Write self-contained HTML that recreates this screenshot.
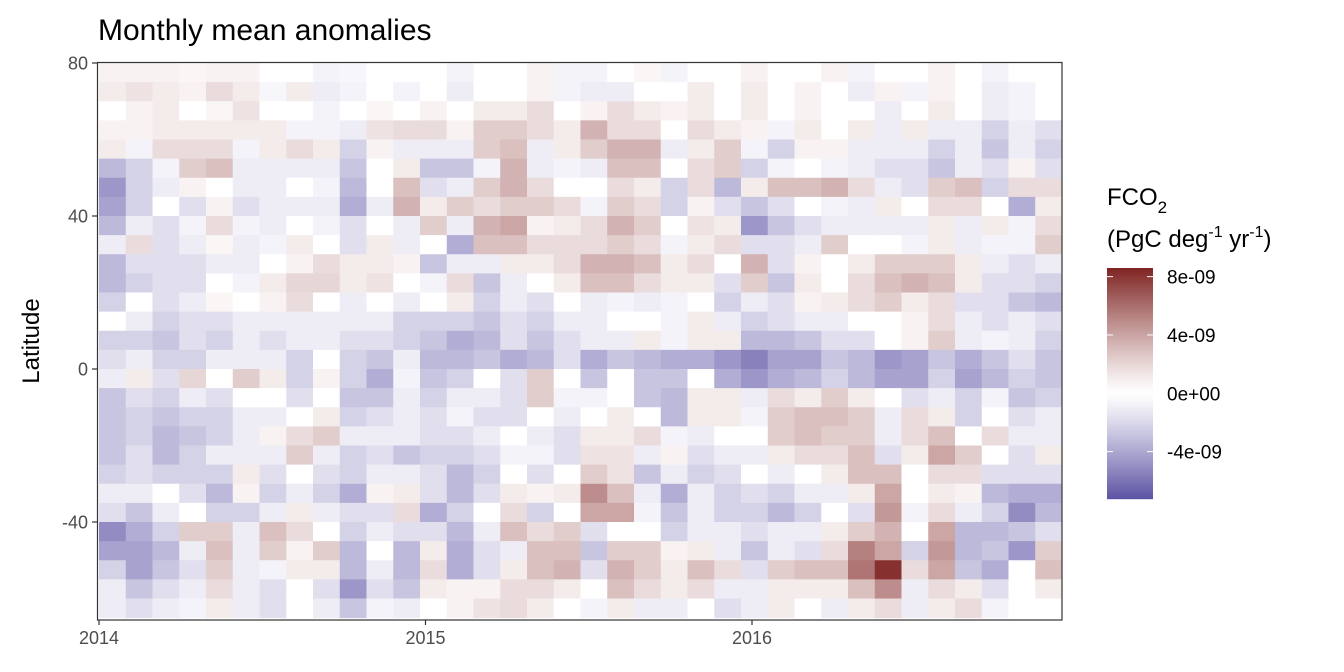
<!DOCTYPE html>
<html><head><meta charset="utf-8"><style>
body{margin:0;background:#fff;}
svg{display:block;font-family:"Liberation Sans",Arial,sans-serif;}
</style></head><body>
<svg id="chart" width="1344" height="672" viewBox="0 0 1344 672">
<text x="98" y="40" font-size="30" fill="#000">Monthly mean anomalies</text>
<g id="cells"></g>
<rect x="97.5" y="62.5" width="964.5" height="557.5" fill="none" stroke="#333" stroke-width="1.2"/>
<g id="axes"></g>
<text transform="translate(39,341) rotate(-90)" text-anchor="middle" font-size="24" fill="#000">Latitude</text>
<g>
<text x="1107" y="205" font-size="24" fill="#000">FCO<tspan font-size="17" dy="8">2</tspan></text>
<text x="1107" y="247" font-size="24" fill="#000">(PgC deg<tspan font-size="16" dy="-10">-1</tspan><tspan dy="10"> yr</tspan><tspan font-size="16" dy="-10">-1</tspan><tspan dy="10">)</tspan></text>
<g id="legendbar"></g>
</g>
</svg>
<script>
const months = 36;
const latBins = [75,70,65,60,55,50,45,40,35,30,25,20,15,10,5,0,-5,-10,-15,-20,-25,-30,-35,-40,-45,-50,-55,-60,-65];
const legendTicks = [8,4,0,-4];
const legendLabels = ["8e-09","4e-09","0e+00","-4e-09"];
const yTicks = [80,40,0,-40];
const xTickYears = [2014,2015,2016];
// values in 1e-9 units, one array per month column, rows from north (75-80) to south (-65..-60)
const c00=[.3,.5,0,.3,.5,-2.5,-4,-3.5,-2.5,-.5,-2.5,-2.5,-1.5,0,-1.5,-1,-.5,-2,-2,-2,-2,-1.5,-.5,-1,-4.5,-3.5,-1.5,-.5,-.5];
const c01=[.3,.8,.3,.3,-.3,-1.5,-1.5,-1.5,-.5,1,-1,-1.5,0,-.5,-1.5,-.5,.5,-1,-1.5,-1.5,-1,-1,-.5,-2,-3,-3.5,-3.5,-2,-1];
const c02=[.3,.5,.5,.5,1,-.3,-.5,0,-1,-1,-1,-1,-1,-1.5,-2,-1.5,-1,-1.5,-2,-2.5,-2.5,-1.5,0,-.5,-1.5,-2.5,-2,-1,-.5];
const c03=[.2,.3,0,.5,1,1.5,.3,-1,-.3,-.5,-1,-1,-.5,-1,-1,-1.5,1.2,-.5,-1.5,-2,-1.5,-1.5,-1,0,1.5,-.5,-1,-.5,-.3];
const c04=[.3,1,.2,.5,1,2,0,.3,1,.2,-.5,0,.2,-1,-1.5,-.5,0,-1,-1.5,-1.5,-.5,-1.5,-2.5,-1.5,1.5,2,1.5,1,.5];
const c05=[.3,.5,.8,.5,-.3,-.5,-.5,-1,-.3,-.5,-.5,-.3,0,-.5,-.5,-.5,1.5,0,-.5,-.5,-.5,.5,.3,-1.5,-.5,-.5,-.5,-.5,-.5];
const c06=[0,-.2,0,.5,.5,-.5,-.5,-.5,-.5,-.3,0,.5,.3,-.5,-1,-.5,.5,0,-.5,.3,-.5,-1,-1.5,-.5,2,1.5,-.3,-1,-1];
const c07=[0,.5,0,-.3,1,-.5,0,-.5,0,.5,.3,1.2,1,-.5,-.5,-1.5,-1.5,-1,0,1,1.5,0,-.5,.5,1,.3,.5,0,0];
const c08=[-.3,-.5,-.3,-.3,.5,-.5,-.3,-.5,-.3,0,1,1.2,0,-.5,-.5,0,.3,0,.5,1.5,-.5,-1,-1.5,-.5,0,1.5,.5,-1,-.5];
const c09=[-.2,-.3,0,-.5,-1.5,-2,-2.5,-3,-1,-1,.5,.5,-.5,-.5,-1,-1.5,-1.5,-2,-1.5,-.5,-1.5,-1.5,-3,-1,-1.5,-2.5,-2.5,-4,-2];
const c10=[0,0,.2,.8,.3,0,0,-.5,0,.5,.5,.8,0,-.5,-1,-2,-3,-2,-1,-.5,-1,-.5,.3,-1,-.5,0,-.5,-1,-.3];
const c11=[0,-.3,0,1,-.5,.5,2,2.5,-.5,-.5,.3,0,-.5,-1.5,-1.5,-.5,-.3,-.5,-.5,-.5,-2,-.5,.5,1,-1,-2.5,-2.5,-2,-.5];
const c12=[0,0,.3,1,-.5,-2,-1,.5,1.5,0,-2,-.3,0,-1.5,-2,-2.5,-2,-1.5,-1,-1,-1.5,-1,-1,-3,-1,.5,1,.5,0];
const c13=[-.3,-.5,0,.3,-.5,-2,-.5,1.5,-.5,-3,-.5,1,.5,-1.5,-3,-2.5,-1.5,-.5,-.3,-1,-1.5,-2.5,-2.5,-1.5,-2.5,-3,-3,.3,.3];
const c14=[0,0,.5,1.5,1.5,-.3,1.5,1,2.5,2,-.5,-2,-1.5,-2,-2.5,-2,0,-.5,-1,-.5,-1,-1.5,-1,0,-.5,-1,-1,.3,.8];
const c15=[0,0,.5,1.5,2,2.5,2.5,1.5,3,2,.5,-.5,-.5,-1,-1,-3,-1,-1,-1,0,-.3,0,.5,1,2,-.5,.5,1,1];
const c16=[.3,.3,1,1,-.5,-.5,1,1.5,.3,1,.5,0,-1,-1.5,-2,-2.5,1.5,1.5,0,-.5,-.3,-1,.3,-1.5,1,2,2,1,.5];
const c17=[-.3,-.3,0,.5,.5,-.3,0,1,.5,1,1,.5,0,-.5,-1,-1,0,-.3,-.5,-1,-1,0,.5,0,1.5,2,2.5,.5,0];
const c18=[-.3,-.5,.3,2.5,1.5,-.5,0,-.3,1,1,2.5,2,-.5,-.5,-.5,-3,-2,-.3,0,.5,.8,1.5,4,3,-1,-2,-1,0,-.3];
const c19=[0,-.5,1,1,2.5,2,1,1.5,2.5,1.5,2.5,2,-.3,0,-.5,-2,0,0,.5,.5,.8,.8,2,3,0,1.5,2.5,2,.5];
const c20=[.2,0,.5,1,2.5,2,.5,1,1.5,1,2,1,-.5,0,.5,-2.5,-2,-2,0,1,-.5,-2,-.5,-.3,0,1.5,1.5,1,-.5];
const c21=[-.3,0,.3,0,-.5,0,-1.5,-1.5,0,-.3,.5,.5,-.3,-.3,-.3,-3,-2,-2.5,-2.5,-.3,.3,-.5,-3,-2,-1.5,.3,.5,.5,-.5];
const c22=[0,.5,.5,1,.5,1,1,.3,.8,.5,1,.5,0,.5,.5,-3,0,.5,.5,-.5,-1,-1.5,-.5,-.5,-.5,.5,2,1,0];
const c23=[0,0,0,.5,1.5,1.5,-2.5,-1,.5,1,0,-1,-1.5,-.5,.5,-4,-3,.5,.5,0,-.5,-1,-1.5,-1.5,-.5,-.5,1,-.5,-1];
const c24=[.3,.5,.5,.3,-.3,-1.5,.5,-2,-4,-1,2.5,1.5,-.5,-1.5,-2.5,-5,-4,-.5,-.3,0,-.5,0,-1,-1.5,-1,-2,-1,-.5,-.5];
const c25=[0,0,0,-.3,-1.5,-.3,2,-1,-2,-1,-1,-2,-1,-1,-2.5,-3.5,-3,1,1.5,1.5,.5,-.5,-1.5,-2.5,-.5,-.5,1.5,.5,.5];
const c26=[0,.3,.3,.5,.3,0,2,0,-1,-.5,.3,.5,.3,-.5,-2,-3.5,-2.5,.5,2,2,1,0,-.5,-1.5,-.5,-1,2,.5,0];
const c27=[.3,0,0,0,.3,-.3,2.5,-.3,-.5,1.5,0,0,.5,-.5,-1,-2,-1.5,1.5,2,1.5,1,.5,-.5,0,.5,1,2,.5,-.5];
const c28=[-.3,-.5,0,.5,-.5,-.5,1,-.5,-.5,0,.5,1,1,0,-1,-2.5,-2.5,.5,1.5,1.5,2,2,.5,-1,1.5,4.5,5,2,.5];
const c29=[0,.3,-.5,-.5,-.5,-1,-.5,.5,-.5,0,1.5,2,1.5,0,0,-4,-3.5,0,-.5,-.5,-1,2,3,3.5,2.5,3,8,4,1];
const c30=[0,-.3,0,.5,-.5,-1,-1,0,-.5,-.3,1.5,2.5,.5,.3,.3,-3.5,-3.5,-1,1,1,.5,0,0,-.3,0,-1.5,1,-.5,-.5];
const c31=[.3,.3,.5,-.5,-1.5,-2,1.5,1,.5,.5,1.5,2,1,1,1.5,-2,-1.5,-.5,.5,2,3,1,.5,1,3,3.5,3,1,.5];
const c32=[0,0,0,-.5,-.5,-.5,2,1,-.5,-.5,.5,.5,-1,-.5,-.5,-3,-3.5,-1.5,-1.5,0,1.5,1,.3,-.5,-2.5,-2.5,-2,.5,1];
const c33=[-.3,-.5,-.5,-1.5,-2,-1,-1.5,0,.5,-.3,-.5,-1,-1,-1,-.3,-2,-2.5,-.3,0,1,0,-1,-2.5,-1.5,-2.5,-2,-3,-1,-.3];
const c34=[0,-.3,-.3,-.5,-.5,.3,1,-3,-.3,-.3,-1,-1,-2,-.5,-.5,-1,-1.5,-2,-1,-.5,-1,-1,-3,-4.5,-2,-4,0,0,0];
const c35=[0,0,0,-1,-1.5,-1,1,.5,1,1.5,-.5,-1.5,-2.5,-1,-1.5,-2,-2,-1.5,-.5,-.5,.5,-1,-3,-2.5,-1,1.5,2,.5,0];
const columns=[c00,c01,c02,c03,c04,c05,c06,c07,c08,c09,c10,c11,c12,c13,c14,c15,c16,c17,c18,c19,c20,c21,c22,c23,c24,c25,c26,c27,c28,c29,c30,c31,c32,c33,c34,c35];

const NS="http://www.w3.org/2000/svg";
const yScale = lat => 369 - 3.825*lat;
const colScale = m => 99 + 26.75*m;
const yearScale = yr => 99 + 326.5*(yr-2014);
const LO=[91,82,163], HI=[127,37,35], VMIN=-7.27, VMAX=8.57;
function color(v, g){
  let t, c;
  if(v>=0){t=Math.min(v/VMAX,1);c=HI;} else {t=Math.min(v/VMIN,1);c=LO;}
  t=Math.pow(t,g);
  const r=[0,1,2].map(i=>Math.round(255+(c[i]-255)*t));
  return `rgb(${r[0]},${r[1]},${r[2]})`;
}
const cells=document.getElementById('cells');
columns.forEach((col,m)=>{
  col.forEach((v,r)=>{
    const lat=latBins[r];
    const top=Math.max(yScale(lat+5),63), bot=Math.min(yScale(lat),620);
    const el=document.createElementNS(NS,'rect');
    el.setAttribute('x',colScale(m));
    el.setAttribute('y',top);
    el.setAttribute('width',colScale(m+1)-colScale(m)+0.5);
    el.setAttribute('height',bot-top+0.5);
    el.setAttribute('fill',color(v,0.85));
    
    
    cells.appendChild(el);
  });
});
const axes=document.getElementById('axes');
yTicks.forEach(t=>{
  const y=yScale(t);
  const l=document.createElementNS(NS,'line');
  l.setAttribute('x1',92);l.setAttribute('x2',97);l.setAttribute('y1',y);l.setAttribute('y2',y);
  l.setAttribute('stroke','#333');l.setAttribute('stroke-width','1.2');
  
  
  axes.appendChild(l);
  const tx=document.createElementNS(NS,'text');
  tx.setAttribute('x',88);tx.setAttribute('y',y+6.5);tx.setAttribute('text-anchor','end');
  tx.setAttribute('font-size','18');tx.setAttribute('fill','#4d4d4d');
  tx.textContent=t;
  
  
  axes.appendChild(tx);
});
xTickYears.forEach(yr=>{
  const x=yearScale(yr);
  const l=document.createElementNS(NS,'line');
  l.setAttribute('x1',x);l.setAttribute('x2',x);l.setAttribute('y1',620);l.setAttribute('y2',625);
  l.setAttribute('stroke','#333');l.setAttribute('stroke-width','1.2');
  
  
  axes.appendChild(l);
  const tx=document.createElementNS(NS,'text');
  tx.setAttribute('x',x);tx.setAttribute('y',644);tx.setAttribute('text-anchor','middle');
  tx.setAttribute('font-size','18');tx.setAttribute('fill','#4d4d4d');
  tx.textContent=yr;
  
  
  axes.appendChild(tx);
});
const lb=document.getElementById('legendbar');
const lScale = v => 393.3 - 14.58*v;
for(let y=268;y<499;y++){
  const v=(393.3-(y+0.5))/14.58;
  const r=document.createElementNS(NS,'rect');
  r.setAttribute('x',1107);r.setAttribute('y',y);r.setAttribute('width',46);r.setAttribute('height',1.2);
  r.setAttribute('fill',color(v,1.15));
  
  
  lb.appendChild(r);
}
legendTicks.forEach((t,i)=>{
  const y=lScale(t);
  [[1107,1113],[1147,1153]].forEach(([a,b])=>{
    const l=document.createElementNS(NS,'line');
    l.setAttribute('x1',a);l.setAttribute('x2',b);l.setAttribute('y1',y);l.setAttribute('y2',y);
    l.setAttribute('stroke','#fff');l.setAttribute('stroke-width','1');
    
    
    lb.appendChild(l);
  });
  const tx=document.createElementNS(NS,'text');
  tx.setAttribute('x',1167);tx.setAttribute('y',y+7);
  tx.setAttribute('font-size','19');tx.setAttribute('fill','#000');
  tx.textContent=legendLabels[i];
  
  
  lb.appendChild(tx);
});
</script>
</body></html>
